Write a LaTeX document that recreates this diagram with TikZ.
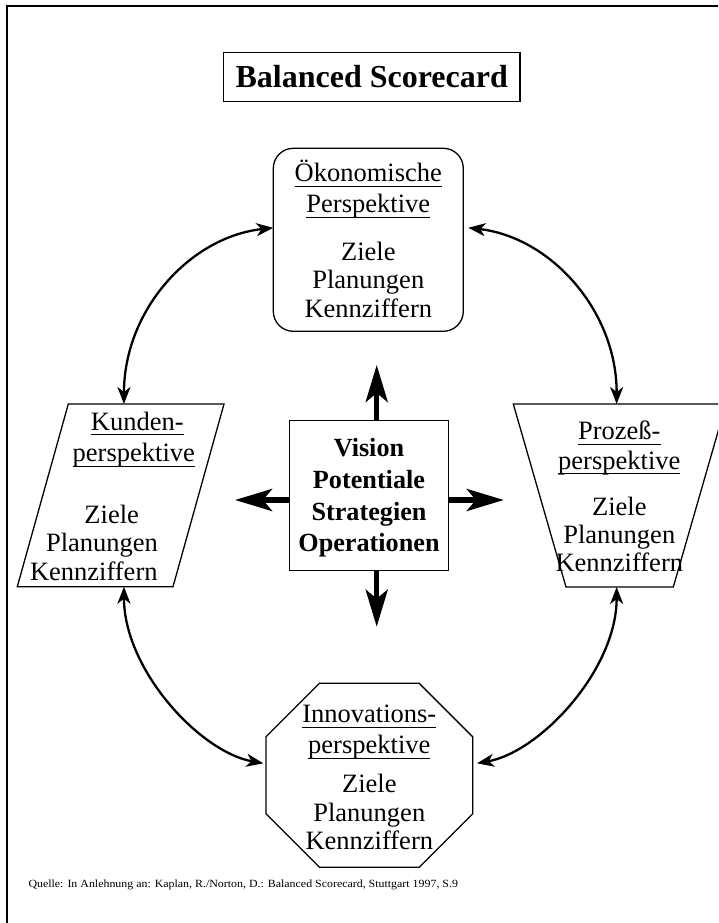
\documentclass[tikz,border=0pt]{standalone}
\usepackage{fontspec}
\setmainfont{Liberation Serif}
\usetikzlibrary{arrows.meta}

% underline at a fixed distance below the baseline
\newcommand\ulined[1]{\setbox0\hbox{#1}\rlap{\rule[-5.2pt]{\wd0}{1.2pt}}\box0}

\tikzset{
  frame/.style={line width=1.6pt},
  outline/.style={draw, line width=1.3pt, line join=miter},
  zone/.style={inner sep=0pt, outer sep=0pt},
  txt/.style={anchor=base, inner sep=0pt, outer sep=0pt, font=\fontsize{26.5}{30}\selectfont},
  boldtxt/.style={anchor=base, inner sep=0pt, outer sep=0pt, font=\fontsize{26.2}{30}\selectfont\bfseries},
  link/.style={line width=2.3pt,
    {Stealth[length=17pt,width=13pt,inset=5pt]}-{Stealth[length=17pt,width=13pt,inset=5pt]}},
  push/.style={line width=5.3pt, -{Stealth[length=37pt,width=22pt,inset=9pt]}},
}

\begin{document}
\begin{tikzpicture}[x=1pt, y=-1pt]
\useasboundingbox (0,0) rectangle (718,923);
\fill[white] (0,0) rectangle (718,923);
\clip (0,0) rectangle (718,923);

% page frame
\draw[frame] (7,923) -- (7,6) -- (718,6);

% title
\node[draw, line width=1.5pt, minimum width=296.7pt, minimum height=49.4pt,
      inner sep=0pt, outer sep=0pt, font=\fontsize{32}{36}\selectfont\bfseries]
      (title) at (371.7,77) {Balanced Scorecard};

% economic perspective
\node[outline, rounded corners=20pt, minimum width=190pt, minimum height=183pt, zone]
      (oek) at (368.3,239.8) {};
\node[txt] (oek1) at (368.3,181.7) {\ulined{Ökonomische}};
\node[txt] (oek2) at (368.3,212.7) {\ulined{Perspektive}};
\node[txt] (oek3) at (368.3,260) {Ziele};
\node[txt] (oek4) at (368.3,288.7) {Planungen};
\node[txt] (oek5) at (368.3,317.5) {Kennziffern};

% customer perspective (parallelogram)
\node[zone, minimum width=206.7pt, minimum height=182.7pt] (kunden) at (120.65,495.35) {};
\draw[outline] ([xshift=51pt]kunden.north west) -- (kunden.north east)
  -- ([xshift=-51pt]kunden.south east) -- (kunden.south west) -- cycle;
\node[txt] (kun1) at (137.3,430) {\ulined{Kunden-}};
\node[txt] (kun2) at (133.8,461.7) {\ulined{perspektive}};
\node[txt] (kun3) at (111.7,523.3) {Ziele};
\node[txt] (kun4) at (102,551.7) {Planungen};
\node[txt] (kun5) at (93.8,580.5) {Kennziffern};

% process perspective (trapezium)
\node[zone, minimum width=212.7pt, minimum height=183pt] (prozess) at (619.65,495.5) {};
\draw[outline] (prozess.north west) -- (prozess.north east)
  -- ([xshift=-52.7pt]prozess.south east) -- ([xshift=52.7pt]prozess.south west) -- cycle;
\node[txt] (pro1) at (619.3,439.5) {\ulined{Prozeß-}};
\node[txt] (pro2) at (619.3,469) {\ulined{perspektive}};
\node[txt] (pro3) at (619.3,515) {Ziele};
\node[txt] (pro4) at (619.3,543) {Planungen};
\node[txt] (pro5) at (619.3,571.5) {Kennziffern};

% innovation perspective (octagon)
\node[zone, minimum width=206.7pt, minimum height=184pt] (innov) at (369.35,775.3) {};
\draw[outline] ([xshift=53.5pt]innov.north west) -- ([xshift=-53.5pt]innov.north east)
  -- ([yshift=-53.5pt]innov.north east) -- ([yshift=53.5pt]innov.south east)
  -- ([xshift=-53.5pt]innov.south east) -- ([xshift=53.5pt]innov.south west)
  -- ([yshift=53.5pt]innov.south west) -- ([yshift=-53.5pt]innov.north west) -- cycle;
\node[txt] (inn1) at (369.3,722.5) {\ulined{Innovations-}};
\node[txt] (inn2) at (369.3,753.5) {\ulined{perspektive}};
\node[txt] (inn3) at (369.3,792.5) {Ziele};
\node[txt] (inn4) at (369.3,821.5) {Planungen};
\node[txt] (inn5) at (369.3,849) {Kennziffern};

% centre box
\node[outline, minimum width=159pt, minimum height=150pt, zone] (vis) at (368.8,495.7) {};
\node[boldtxt] (vis1) at (369,456.7) {Vision};
\node[boldtxt] (vis2) at (369,488.3) {Potentiale};
\node[boldtxt] (vis3) at (369,520) {Strategien};
\node[boldtxt] (vis4) at (369,551.7) {Operationen};

% thick arrows out of the centre box
\coordinate (tipN) at (376.7,365);
\coordinate (tipS) at (376.7,626.7);
\coordinate (tipW) at (235,500);
\coordinate (tipE) at (503.8,500);
\draw[push] (vis.north -| tipN) -- (tipN);
\draw[push] (vis.south -| tipS) -- (tipS);
\draw[push] (vis.west |- tipW) -- (tipW);
\draw[push] (vis.east |- tipE) -- (tipE);

% curved two-way links around the ring
\draw[link] ([xshift=3.3pt]kunden.north) .. controls (124,310) and (190,237) .. ([yshift=12pt]oek.west);
\draw[link] ([xshift=5pt,yshift=12pt]oek.east) .. controls (550,237) and (616.7,310) .. ([xshift=-3pt]prozess.north);
\draw[link] ([xshift=3.3pt]kunden.south) .. controls (124,670) and (200,752) .. ([xshift=-2.7pt,yshift=12pt]innov.west);
\draw[link] ([xshift=4.3pt,yshift=12pt]innov.east) .. controls (540,752) and (616.7,670) .. ([xshift=-3pt]prozess.south);

% source line
\node[anchor=base west, inner sep=0pt, font=\fontsize{11}{13}\selectfont] (quelle) at (28.3,887)
  {\resizebox{429.5pt}{\height}{Quelle: In Anlehnung an: Kaplan, R./Norton, D.: Balanced Scorecard, Stuttgart 1997, S.9}};
\end{tikzpicture}
\end{document}
